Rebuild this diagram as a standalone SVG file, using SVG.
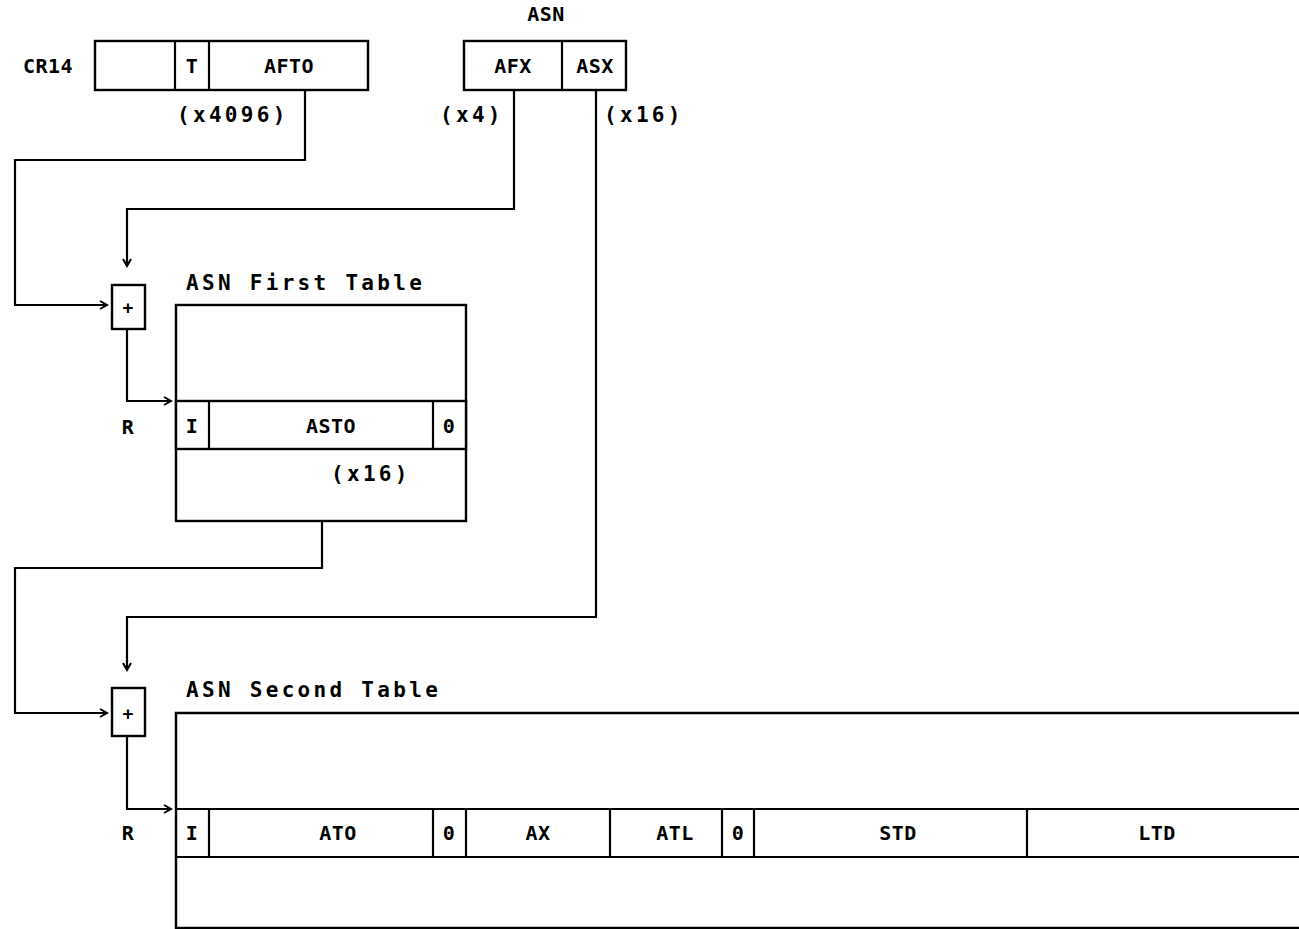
<svg xmlns="http://www.w3.org/2000/svg" width="1299" height="929" viewBox="0 0 1299 929">
<style>
.b{fill:#fff;stroke:#000;stroke-width:2.4}
.l{fill:none;stroke:#000;stroke-width:2.2}
.t{font-family:"DejaVu Sans Mono","Liberation Mono",monospace;font-weight:bold;font-size:20px;letter-spacing:0.5px;fill:#000;text-anchor:middle;dominant-baseline:central}
.w{font-family:"DejaVu Sans Mono","Liberation Mono",monospace;font-weight:bold;font-size:21px;letter-spacing:3.3px;fill:#000;dominant-baseline:central}
</style>
<defs>
<marker id="ah" markerUnits="userSpaceOnUse" markerWidth="12" markerHeight="12" refX="9" refY="5" orient="auto">
<path d="M2,1 L9,5 L2,9" fill="none" stroke="#000" stroke-width="2"/>
</marker>
</defs>
<g id="connectors">
<path class="l" d="M305,90 V160 H15 V305 H107" marker-end="url(#ah)"/>
<path class="l" d="M514,90 V209 H127 V266" marker-end="url(#ah)"/>
<path class="l" d="M596,90 V617 H127 V670" marker-end="url(#ah)"/>
<path class="l" d="M127,329 V401 H171" marker-end="url(#ah)"/>
<path class="l" d="M322,449 V568 H15 V713 H107" marker-end="url(#ah)"/>
<path class="l" d="M127,737 V809 H171" marker-end="url(#ah)"/>
</g>
<g id="cr14">
<text class="t" x="48" y="66">CR14</text>
<rect class="b" x="95" y="41" width="273" height="49"/>
<line class="l" x1="175" y1="41" x2="175" y2="90"/>
<line class="l" x1="209" y1="41" x2="209" y2="90"/>
<text class="t" x="192" y="66">T</text>
<text class="t" x="289" y="66">AFTO</text>
<text class="w" x="177" y="115">(x4096)</text>
</g>
<g id="asn">
<text class="t" x="546" y="14">ASN</text>
<rect class="b" x="464" y="41" width="162" height="49"/>
<line class="l" x1="562" y1="41" x2="562" y2="90"/>
<text class="t" x="513" y="66">AFX</text>
<text class="t" x="595" y="66">ASX</text>
<text class="w" x="440" y="115">(x4)</text>
<text class="w" x="604" y="115">(x16)</text>
</g>
<g id="plus1">
<rect class="b" x="112" y="285" width="33" height="44"/>
<text class="t" x="128" y="307" style="letter-spacing:0;font-size:18px">+</text>
<text class="t" x="128" y="427">R</text>
</g>
<g id="first-table">
<text class="w" x="186" y="283">ASN First Table</text>
<rect class="b" x="176" y="305" width="290" height="216"/>
<rect class="b" x="176" y="401" width="290" height="48"/>
<line class="l" x1="209" y1="401" x2="209" y2="449"/>
<line class="l" x1="433" y1="401" x2="433" y2="449"/>
<text class="t" x="192" y="426">I</text>
<text class="t" x="331" y="426">ASTO</text>
<text class="t" x="449" y="426">0</text>
<text class="w" x="331" y="474">(x16)</text>
</g>
<g id="plus2">
<rect class="b" x="112" y="688" width="33" height="48"/>
<text class="t" x="128" y="713" style="letter-spacing:0;font-size:18px">+</text>
<text class="t" x="128" y="833">R</text>
</g>
<g id="second-table">
<text class="w" x="186" y="690">ASN Second Table</text>
<path class="l" d="M1299,713 H176 V928 H1299" style="stroke-width:2.4"/>
<path class="l" d="M176,809 H1299 M176,857 H1299"/>
<line class="l" x1="209" y1="809" x2="209" y2="857"/>
<line class="l" x1="433" y1="809" x2="433" y2="857"/>
<line class="l" x1="466" y1="809" x2="466" y2="857"/>
<line class="l" x1="610" y1="809" x2="610" y2="857"/>
<line class="l" x1="722" y1="809" x2="722" y2="857"/>
<line class="l" x1="754" y1="809" x2="754" y2="857"/>
<line class="l" x1="1027" y1="809" x2="1027" y2="857"/>
<text class="t" x="192" y="833">I</text>
<text class="t" x="338" y="833">ATO</text>
<text class="t" x="449" y="833">0</text>
<text class="t" x="538" y="833">AX</text>
<text class="t" x="675" y="833">ATL</text>
<text class="t" x="738" y="833">0</text>
<text class="t" x="898" y="833">STD</text>
<text class="t" x="1157" y="833">LTD</text>
</g>
</svg>
